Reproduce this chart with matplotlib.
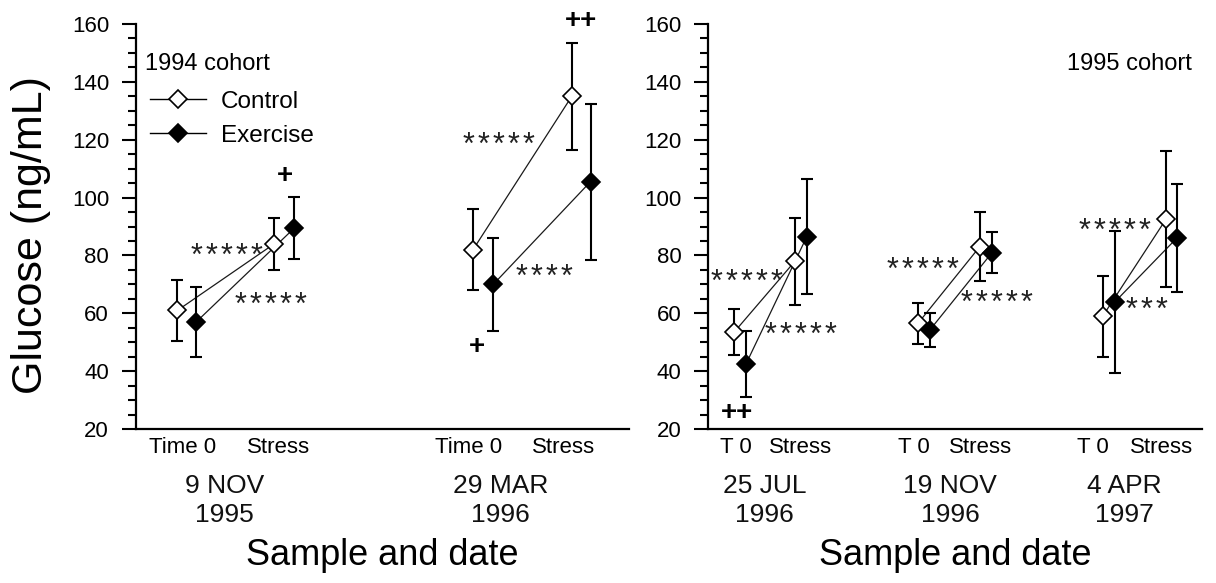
import matplotlib
matplotlib.use("Agg")
import matplotlib.pyplot as plt
from matplotlib.lines import Line2D
from matplotlib import transforms

plt.rcParams['font.family'] = ['Liberation Sans', 'DejaVu Sans']

# ---------------- data ----------------
# 1994 cohort: 9 NOV 1995 (Time 0, Stress), 29 MAR 1996 (Time 0, Stress)
left_control = [61.0, 84.0, 82.0, 135.0]
left_control_err = [10.5, 9.0, 14.0, 18.5]
left_exercise = [57.0, 89.5, 70.0, 105.5]
left_exercise_err = [12.0, 10.7, 16.0, 27.0]
left_sample_labels = ["Time 0", "Stress", "Time 0", "Stress"]
left_date_labels = ["9 NOV\n1995", "29 MAR\n1996"]

# 1995 cohort: 25 JUL 1996, 19 NOV 1996, 4 APR 1997
right_control = [53.5, 78.0, 56.5, 83.0, 59.0, 92.5]
right_control_err = [8.0, 15.0, 7.0, 12.0, 14.0, 23.5]
right_exercise = [42.5, 86.5, 54.2, 81.0, 64.0, 86.0]
right_exercise_err = [11.3, 20.0, 6.0, 7.0, 24.6, 18.7]
right_sample_labels = ["T 0", "Stress", "T 0", "Stress", "T 0", "Stress"]
right_date_labels = ["25 JUL\n1996", "19 NOV\n1996", "4 APR\n1997"]

# significance annotations: (text, x position, y value)
left_notes = [("*****", 1.85, 82.6), ("*****", 2.73, 65.6), ("+", 3.02, 107.6),
              ("*****", 7.36, 121.0), ("****", 8.28, 75.3), ("+", 6.92, 48.4),
              ("++", 9.03, 161.0)]
right_notes = [("*****", 0.78, 73.6), ("*****", 1.88, 55.4), ("++", 0.59, 25.7),
               ("*****", 4.35, 77.6), ("*****", 5.83, 66.3),
               ("*****", 8.22, 91.3), ("***", 8.87, 64.0)]

# ---------------- layout ----------------
left_xc = [0.85, 2.81, 6.84, 8.84]
left_xe = [1.23, 3.22, 7.25, 9.22]
left_tick_x = [0.95, 2.89, 6.74, 8.68]
left_date_x = [1.8, 7.4]

right_xc = [0.53, 1.76, 4.25, 5.50, 7.99, 9.27]
right_xe = [0.77, 2.00, 4.49, 5.75, 8.24, 9.49]
right_tick_x = [0.57, 1.88, 4.17, 5.51, 7.79, 9.19]
right_date_x = [1.15, 4.9, 8.42]

W, H = 1216, 583
fig = plt.figure(figsize=(W / 100, H / 100), dpi=100)

def px_axes(x0, x1, y0, y1):
    return fig.add_axes([x0 / W, 1 - y1 / H, (x1 - x0) / W, (y1 - y0) / H])

axL = px_axes(135.5, 629, 24, 429)
axR = px_axes(708, 1202, 24, 429)

MS = 9.5
STAR_PITCH = 15.0  # pixels between asterisks


def draw_panel(ax, xc, xe, c, ce, e, ee, notes):
    n = len(c)
    for g in range(0, n, 2):
        sl = slice(g, g + 2)
        ax.plot(xc[sl], c[sl], color='#1a1a1a', lw=0.9, zorder=2)
        ax.plot(xe[sl], e[sl], color='#1a1a1a', lw=0.9, zorder=2)
    ax.errorbar(xc, c, yerr=ce, fmt='none', ecolor='black', elinewidth=1.5,
                capsize=4, capthick=1.5, zorder=3)
    ax.errorbar(xe, e, yerr=ee, fmt='none', ecolor='black', elinewidth=1.5,
                capsize=4, capthick=1.5, zorder=3)
    ax.plot(xc, c, ls='none', marker='D', ms=MS, mfc='white', mec='black',
            mew=1.2, zorder=4)
    ax.plot(xe, e, ls='none', marker='D', ms=MS, mfc='black', mec='black',
            mew=1.2, zorder=4)
    for txt, x, y in notes:
        if '*' in txt:
            k = len(txt)
            for i in range(k):
                dx = (i - (k - 1) / 2) * STAR_PITCH
                tr = transforms.offset_copy(ax.transData, fig=fig, x=dx, y=-17,
                                            units='dots')
                ax.text(x, y, '*', transform=tr, ha='center', va='baseline',
                        fontsize=22, color='#222222', zorder=5)
        else:
            ax.text(x, y, txt, ha='center', va='center', fontsize=20,
                    fontweight='bold', color='black', zorder=5)

    ax.set_xlim(0, 10)
    ax.set_ylim(20, 160)
    ax.set_yticks(range(20, 161, 20))
    ax.set_yticks(range(20, 161, 5), minor=True)
    for s in ['top', 'right']:
        ax.spines[s].set_visible(False)
    ax.spines['left'].set_linewidth(1.6)
    ax.spines['bottom'].set_linewidth(1.6)
    ax.tick_params(axis='y', which='major', direction='out', length=10,
                   width=1.5, labelsize=16, pad=9)
    ax.tick_params(axis='y', which='minor', direction='out', length=6, width=1.5)
    ax.tick_params(axis='x', which='both', length=0, labelsize=16, pad=6)


draw_panel(axL, left_xc, left_xe, left_control, left_control_err,
           left_exercise, left_exercise_err, left_notes)
draw_panel(axR, right_xc, right_xe, right_control, right_control_err,
           right_exercise, right_exercise_err, right_notes)

axL.set_xticks(left_tick_x)
axL.set_xticklabels(left_sample_labels)
axR.set_xticks(right_tick_x)
axR.set_xticklabels(right_sample_labels)

for ax, xs, labels in [(axL, left_date_x, left_date_labels),
                       (axR, right_date_x, right_date_labels)]:
    tr = transforms.blended_transform_factory(ax.transData, ax.transAxes)
    for x, lab in zip(xs, labels):
        ax.text(x, -0.11, lab, transform=tr, ha='center', va='top',
                fontsize=19, linespacing=1.3, color='#111111')
    ax.text(0.5, -0.268, "Sample and date", transform=ax.transAxes,
            ha='center', va='top', fontsize=26)

axL.set_ylabel("Glucose (ng/mL)", fontsize=31)
axL.yaxis.set_label_coords(-0.172, 0.478)

axL.text(0.02, 0.9, "1994 cohort", transform=axL.transAxes, ha='left',
         va='center', fontsize=17)
axR.text(0.98, 0.9, "1995 cohort", transform=axR.transAxes, ha='right',
         va='center', fontsize=17)

handles = [Line2D([], [], color='black', lw=1.0, marker='D', ms=MS,
                  mfc='white', mec='black', mew=1.2),
           Line2D([], [], color='black', lw=1.0, marker='D', ms=MS,
                  mfc='black', mec='black', mew=1.2)]
axL.legend(handles, ["Control", "Exercise"], loc='upper left',
           bbox_to_anchor=(0.03, 0.835), frameon=False, fontsize=17.5,
           handlelength=2.3, handletextpad=0.6, labelspacing=0.5,
           borderaxespad=0, borderpad=0)

fig.savefig("out.png", dpi=100)
